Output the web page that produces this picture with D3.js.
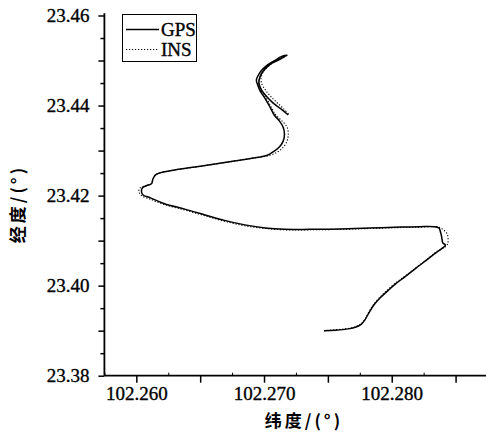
<!DOCTYPE html>
<html>
<head>
<meta charset="utf-8">
<script src="https://cdn.jsdelivr.net/npm/d3@7"></script>
<style>
  body { margin: 0; background: #fff; }
  svg { display: block; }
</style>
</head>
<body>
<div id="chart"></div>
<script>
// GPS track [longitude(纬度 axis), latitude(经度 axis)]
var gpsTrack = [
  [102.2747, 23.3900], [102.2756, 23.3901], [102.2766, 23.3904], [102.2772, 23.3908],
  [102.2776, 23.3914], [102.2779, 23.3924], [102.2782, 23.3939], [102.2786, 23.3957],
  [102.2791, 23.3973], [102.2797, 23.3989], [102.2803, 23.4004], [102.2811, 23.4021],
  [102.2819, 23.4039], [102.2827, 23.4056], [102.2835, 23.4074], [102.2842, 23.4090],
  [102.2840, 23.4095], [102.2839, 23.4110], [102.2838, 23.4121], [102.2837, 23.4128],
  [102.2833, 23.4131], [102.2822, 23.4131], [102.2807, 23.4130], [102.2783, 23.4128],
  [102.2760, 23.4126], [102.2736, 23.4125], [102.2716, 23.4125], [102.2701, 23.4128],
  [102.2685, 23.4135], [102.2669, 23.4145], [102.2654, 23.4157], [102.2638, 23.4170],
  [102.2622, 23.4182], [102.2611, 23.4195], [102.2605, 23.4202], [102.2604, 23.4210],
  [102.2605, 23.4218], [102.2608, 23.4222], [102.2612, 23.4227], [102.2613, 23.4237],
  [102.2615, 23.4246], [102.2619, 23.4251], [102.2630, 23.4257], [102.2650, 23.4265],
  [102.2673, 23.4275], [102.2693, 23.4284], [102.2702, 23.4289], [102.2707, 23.4297],
  [102.2712, 23.4308], [102.2715, 23.4321], [102.2716, 23.4337], [102.2715, 23.4352],
  [102.2712, 23.4366], [102.2708, 23.4379], [102.2705, 23.4395], [102.2701, 23.4415],
  [102.2697, 23.4432], [102.2695, 23.4446], [102.2694, 23.4457], [102.2696, 23.4470],
  [102.2699, 23.4481], [102.2703, 23.4491], [102.2709, 23.4501], [102.2713, 23.4508],
  [102.2718, 23.4512], [102.2712, 23.4502], [102.2705, 23.4492], [102.2700, 23.4479],
  [102.2697, 23.4465], [102.2696, 23.4450], [102.2698, 23.4435], [102.2702, 23.4420],
  [102.2707, 23.4406], [102.2713, 23.4393], [102.2719, 23.4379]
];

// INS track
var insTrack = [
  [102.2747, 23.3900], [102.2756, 23.3902], [102.2766, 23.3905], [102.2772, 23.3909],
  [102.2776, 23.3915], [102.2779, 23.3925], [102.2782, 23.3941], [102.2786, 23.3959],
  [102.2791, 23.3975], [102.2797, 23.3991], [102.2803, 23.4006], [102.2811, 23.4022],
  [102.2819, 23.4040], [102.2827, 23.4057], [102.2835, 23.4075], [102.2843, 23.4089],
  [102.2844, 23.4095], [102.2844, 23.4108], [102.2843, 23.4117], [102.2839, 23.4127],
  [102.2835, 23.4131], [102.2822, 23.4130], [102.2807, 23.4129], [102.2783, 23.4127],
  [102.2760, 23.4125], [102.2736, 23.4124], [102.2716, 23.4124], [102.2701, 23.4127],
  [102.2685, 23.4133], [102.2669, 23.4143], [102.2654, 23.4155], [102.2638, 23.4168],
  [102.2622, 23.4180], [102.2611, 23.4192], [102.2604, 23.4200], [102.2602, 23.4209],
  [102.2603, 23.4217], [102.2607, 23.4222], [102.2612, 23.4227], [102.2613, 23.4237],
  [102.2615, 23.4246], [102.2619, 23.4251], [102.2630, 23.4257], [102.2650, 23.4265],
  [102.2673, 23.4275], [102.2693, 23.4284], [102.2704, 23.4289], [102.2710, 23.4296],
  [102.2715, 23.4307], [102.2718, 23.4321], [102.2719, 23.4337], [102.2718, 23.4352],
  [102.2714, 23.4366], [102.2709, 23.4380], [102.2706, 23.4395], [102.2702, 23.4415],
  [102.2698, 23.4432], [102.2696, 23.4446], [102.2696, 23.4457], [102.2698, 23.4470],
  [102.2701, 23.4481], [102.2705, 23.4491], [102.2710, 23.4500], [102.2714, 23.4507],
  [102.2718, 23.4511], [102.2712, 23.4503], [102.2706, 23.4493], [102.2701, 23.4480],
  [102.2698, 23.4466], [102.2698, 23.4450], [102.2701, 23.4435], [102.2705, 23.4421],
  [102.2710, 23.4407], [102.2715, 23.4394], [102.2720, 23.4379]
];

var xLabels = [102.260, 102.270, 102.280];
var yLabels = [23.38, 23.40, 23.42, 23.44, 23.46];
var seriesNames = ["GPS", "INS"];

// set the dimensions and margins of the graph
var W = 486, H = 436;
var margin = {top: 15.5, left: 104.4};

var svg = d3.select("#chart")
  .append("svg")
    .attr("width", W)
    .attr("height", H);

var x = d3.scaleLinear()
  .domain([102.2575, 102.2875])
  .range([104.4, 487.5]);

var y = d3.scaleLinear()
  .domain([23.38, 23.46])
  .range([375.7, 15.5]);

var numFont = "'Liberation Serif', 'Times New Roman', serif";
var cjkFont = "'Noto Sans CJK SC', sans-serif";

// X axis: minor inward ticks
svg.append("g")
  .attr("transform", "translate(0," + y(23.38) + ")")
  .call(d3.axisBottom(x).tickValues(d3.range(102.2575, 102.2876, 0.005)).tickSize(-3).tickFormat(""))
  .call(function(g) { g.select(".domain").remove(); });

// X axis: major ticks
var xMajor = d3.range(102.2600, 102.2851, 0.005);
svg.append("g")
  .attr("transform", "translate(0," + y(23.38) + ")")
  .call(d3.axisBottom(x).tickValues(xMajor).tickSize(7).tickPadding(4)
    .tickFormat(function(d) {
      var hit = xLabels.some(function(v) { return Math.abs(v - d) < 1e-6; });
      return hit ? d3.format(".3f")(d) : "";
    }))
  .call(function(g) {
    g.select(".domain").remove();
    g.selectAll("text").style("font-family", numFont).style("font-size", "19px")
      .attr("fill", "#000").attr("stroke", "#000").attr("stroke-width", 0.35);
    g.selectAll("line").attr("stroke-width", 1.5);
  });

// Y axis: minor ticks
svg.append("g")
  .attr("transform", "translate(" + margin.left + ",0)")
  .call(d3.axisLeft(y).tickValues(d3.range(23.385, 23.46, 0.01)).tickSize(4).tickFormat(""))
  .call(function(g) { g.select(".domain").remove(); g.selectAll("line").attr("stroke-width", 1.5); });

// Y axis: major ticks
svg.append("g")
  .attr("transform", "translate(" + margin.left + ",0)")
  .call(d3.axisLeft(y).tickValues(d3.range(23.38, 23.4601, 0.01)).tickSize(6).tickPadding(9)
    .tickFormat(function(d) {
      var hit = yLabels.some(function(v) { return Math.abs(v - d) < 1e-6; });
      return hit ? d3.format(".2f")(d) : "";
    }))
  .call(function(g) {
    g.select(".domain").remove();
    g.selectAll("text").style("font-family", numFont).style("font-size", "19px")
      .attr("fill", "#000").attr("stroke", "#000").attr("stroke-width", 0.35);
    g.selectAll("line").attr("stroke-width", 1.5);
  });

// axis lines
svg.append("line")
  .attr("x1", x(102.2575)).attr("x2", x(102.2575))
  .attr("y1", y(23.4605)).attr("y2", y(23.38))
  .attr("stroke", "#000").attr("stroke-width", 1.8);
svg.append("line")
  .attr("x1", x(102.2575)).attr("x2", W)
  .attr("y1", y(23.38)).attr("y2", y(23.38))
  .attr("stroke", "#000").attr("stroke-width", 1.8);

// Axis labels
svg.append("text")
  .attr("text-anchor", "middle")
  .attr("x", 304)
  .attr("y", 427)
  .style("font-family", cjkFont)
  .style("font-size", "17px")
  .style("font-weight", "bold")
  .style("letter-spacing", "3px")
  .text("纬度/(°)");

svg.append("text")
  .attr("text-anchor", "middle")
  .attr("transform", "translate(24,204) rotate(-90)")
  .style("font-family", cjkFont)
  .style("font-size", "17px")
  .style("font-weight", "bold")
  .style("letter-spacing", "3px")
  .text("经度/(°)");

// Tracks
var line = d3.line()
  .x(function(d) { return x(d[0]); })
  .y(function(d) { return y(d[1]); })
  .curve(d3.curveCatmullRom.alpha(0.5));

svg.append("path")
  .datum(insTrack)
  .attr("d", line)
  .attr("fill", "none")
  .attr("stroke", "#000")
  .attr("stroke-width", 1.1)
  .attr("stroke-dasharray", "1.2,1.8");

svg.append("path")
  .datum(gpsTrack)
  .attr("d", line)
  .attr("fill", "none")
  .attr("stroke", "#000")
  .attr("stroke-width", 1.5);

// Legend
var legend = svg.append("g");
legend.append("rect")
  .attr("x", 122.5).attr("y", 14.5)
  .attr("width", 74).attr("height", 47)
  .attr("fill", "#fff").attr("stroke", "#000").attr("stroke-width", 1);

seriesNames.forEach(function(name, i) {
  var ly = 29.5 + i * 20;
  legend.append("line")
    .attr("x1", 126).attr("x2", 159)
    .attr("y1", ly).attr("y2", ly)
    .attr("stroke", "#000")
    .attr("stroke-width", i === 0 ? 1.5 : 1.1)
    .attr("stroke-dasharray", i === 0 ? null : "1.2,1.8");
  legend.append("text")
    .attr("x", 161)
    .attr("y", ly + 6.5)
    .style("font-family", numFont)
    .style("font-size", "19px")
    .attr("stroke", "#000").attr("stroke-width", 0.35)
    .text(name);
});
</script>
</body>
</html>
